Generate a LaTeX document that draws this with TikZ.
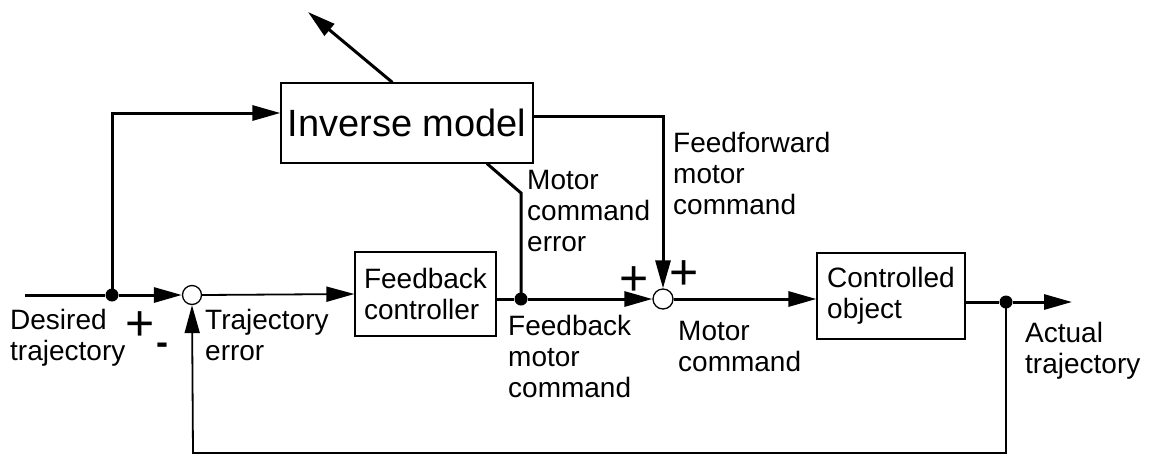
\documentclass[tikz,border=0pt]{standalone}
\usepackage{fontspec}
\setmainfont{Liberation Sans}
\usetikzlibrary{arrows.meta,calc}
\begin{document}
\begin{tikzpicture}[x=1pt,y=-1pt,
  blk/.style={draw,line width=1.2pt,inner sep=0pt,font=\fontsize{28}{31}\selectfont,align=left},
  lbl/.style={inner sep=0pt,anchor=base west,font=\fontsize{28}{31}\selectfont,align=left},
  sign/.style={inner sep=0pt,font=\fontsize{50}{50}\selectfont},
  sum/.style={circle,draw,line width=1.3pt,minimum size=19pt,inner sep=0pt},
  dot/.style={circle,fill,minimum size=13pt,inner sep=0pt},
  thk/.style={line width=3pt},
  thn/.style={line width=1.8pt},
  arr/.style={-{Triangle[length=28pt,width=15pt]}}]
\useasboundingbox (0,0) rectangle (1153,456);
% nodes
\coordinate (in) at (25,295);
\node[dot] (d1) at (112,295) {};
\node[sum] (s1) at (192,295) {};
\coordinate (c1) at (112,113);
\node[blk,minimum width=252pt,minimum height=80pt,font=\fontsize{38}{40}\selectfont] (inv) at (407,123) {Inverse model};
\coordinate (up) at (308,12);
\node[blk,minimum width=141pt,minimum height=84pt] (fbc) at (425.5,294) {Feedback\\controller};
\node[dot] (d2) at (521,299) {};
\node[sum,minimum size=20pt] (s2) at (663,299) {};
\node[blk,minimum width=148pt,minimum height=86pt] (obj) at (891,296) {Controlled\\object};
\node[dot] (d3) at (1006,302) {};
\coordinate (out) at (1072,302);
\coordinate (fbR) at (1006,453);
\coordinate (fbL) at (193,453);
\coordinate (ff) at (663,116);
\coordinate (me) at (521,193);
% connectors
\draw[thk] (in) -- (d1);
\draw[thk,arr] (d1) -- (s1);
\draw[thk,arr] (d1.center) -- (c1) -- (inv.west |- c1);
\draw[thk,arr] ($(inv.north west)+(112,0)$) -- (up);
\draw[thn,arr] (s1.east) -- (fbc.west);
\draw[thk] (fbc.east |- d2) -- (d2);
\draw[thk,arr] (d2) -- (s2);
\draw[thk] (d2.center) -- (me) -- ($(inv.south)+(80,0)$);
\draw[thk,arr] (inv.east |- ff) -- (ff) -- (s2.north);
\draw[thk,arr] (s2) -- (obj.west |- s2);
\draw[thk] (obj.east |- d3) -- (d3);
\draw[thk,arr] (d3) -- (out);
\draw[thn,arr] (d3.center) -- (fbR) -- (fbL) -- (s1.south);
% labels
\node[lbl] (l1) at (10,360) {Desired\\trajectory};
\node[sign] (p1) at (140,326) {+};
\node[sign,font=\fontsize{36}{36}\selectfont\bfseries] (m1) at (162,349) {-};
\node[lbl] (l2) at (205,360) {Trajectory\\error};
\node[lbl] (l3) at (527,251) {Motor\\command\\error};
\node[lbl] (l4) at (508,397) {Feedback\\motor\\command};
\node[sign] (p2) at (634,281) {+};
\node[sign] (p3) at (684,275) {+};
\node[lbl] (l5) at (678,371) {Motor\\command};
\node[lbl] (l6) at (673,214) {Feedforward\\motor\\command};
\node[lbl] (l7) at (1025,373) {Actual\\trajectory};
\end{tikzpicture}
\end{document}
